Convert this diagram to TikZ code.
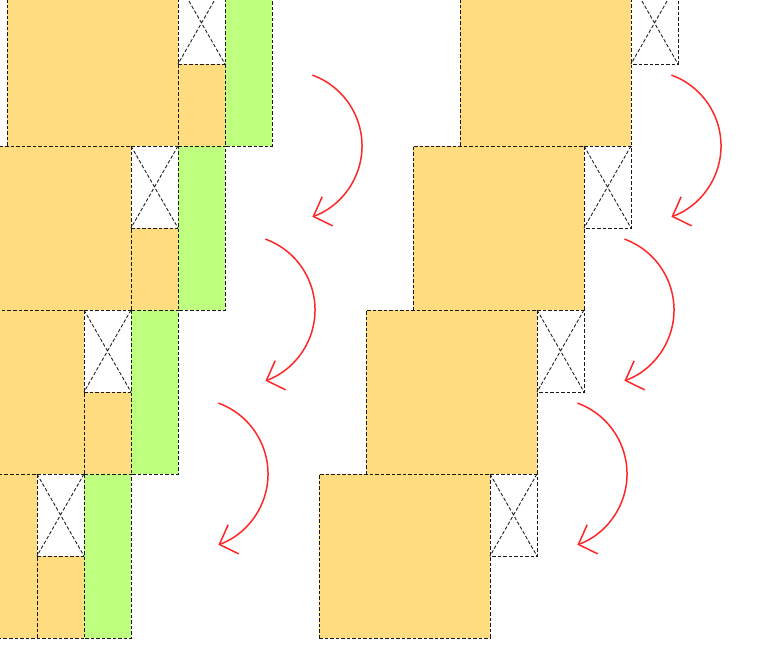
\documentclass[tikz,border=0pt]{standalone}
\usetikzlibrary{arrows.meta}
\definecolor{boxorange}{RGB}{255,220,128}
\definecolor{boxgreen}{RGB}{191,255,128}
\definecolor{arrowred}{RGB}{255,40,40}
\begin{document}
\begin{tikzpicture}[x=1pt,y=-1pt,
  dashline/.style={draw=black!90,dash pattern=on 3.5pt off 2pt,line width=0.85pt},
  orangefill/.style={fill=boxorange},
  greenfill/.style={fill=boxgreen},
  xfill/.style={fill=white},
  redarrow/.style={draw=arrowred,line width=1.5pt,
    -{Straight Barb[length=15pt,width=31pt,line width=1.5pt]}}]
\useasboundingbox (0,0) rectangle (765,663);
\clip (0,0) rectangle (765,663);
% fills
\foreach \i in {0,...,3}{
  \pgfmathsetmacro{\T}{-18+164*\i}
  \pgfmathsetmacro{\L}{7-47*\i}
  \pgfmathsetmacro{\R}{460-47*\i}
  \fill[orangefill] (\L,\T) rectangle ++(171,164);
  \fill[orangefill] (\L+171,\T+82) rectangle ++(47,82);
  \fill[greenfill] (\L+218,\T) rectangle ++(47,164);
  \fill[xfill] (\L+171,\T) rectangle ++(47,82);
  \fill[orangefill] (\R,\T) rectangle ++(171,164);
  \fill[xfill] (\R+171,\T) rectangle ++(47,82);
}
% outlines (each shared edge drawn once)
\foreach \i in {0,...,3}{
  \pgfmathsetmacro{\T}{-18+164*\i}
  \pgfmathsetmacro{\L}{7-47*\i}
  \pgfmathsetmacro{\R}{460-47*\i}
  % left column
  \draw[dashline] (\L,\T+164) -- (\L,\T) -- ++(171,0) -- ++(0,164);
  \draw[dashline] (\L+171,\T) -- ++(47,0);
  \draw[dashline] (\L+171,\T+82) -- ++(47,0);
  \draw[dashline] (\L+218,\T) rectangle ++(47,164);
  \draw[dashline] (\L+171,\T) -- ++(47,82) (\L+218,\T) -- ++(-47,82);
  \ifnum\i=3 \draw[dashline] (\L,\T+164) -- ++(218,0); \fi
  % right column
  \draw[dashline] (\R,\T+164) -- (\R,\T) -- ++(171,0) -- ++(0,164);
  \draw[dashline] (\R+171,\T) -- ++(47,0) -- ++(0,82) -- ++(-47,0);
  \draw[dashline] (\R+171,\T) -- ++(47,82) (\R+218,\T) -- ++(-47,82);
  \ifnum\i=3 \draw[dashline] (\R,\T+164) -- ++(171,0); \fi
}
\foreach \i in {0,1,2}{
  \draw[redarrow] ({312.4-47*\i},{75.1+164*\i}) arc[start angle=70,end angle=-70,radius=75.4pt];
  \draw[redarrow] ({671.4-47*\i},{75.1+164*\i}) arc[start angle=70,end angle=-70,radius=75.4pt];
}
\end{tikzpicture}
\end{document}
